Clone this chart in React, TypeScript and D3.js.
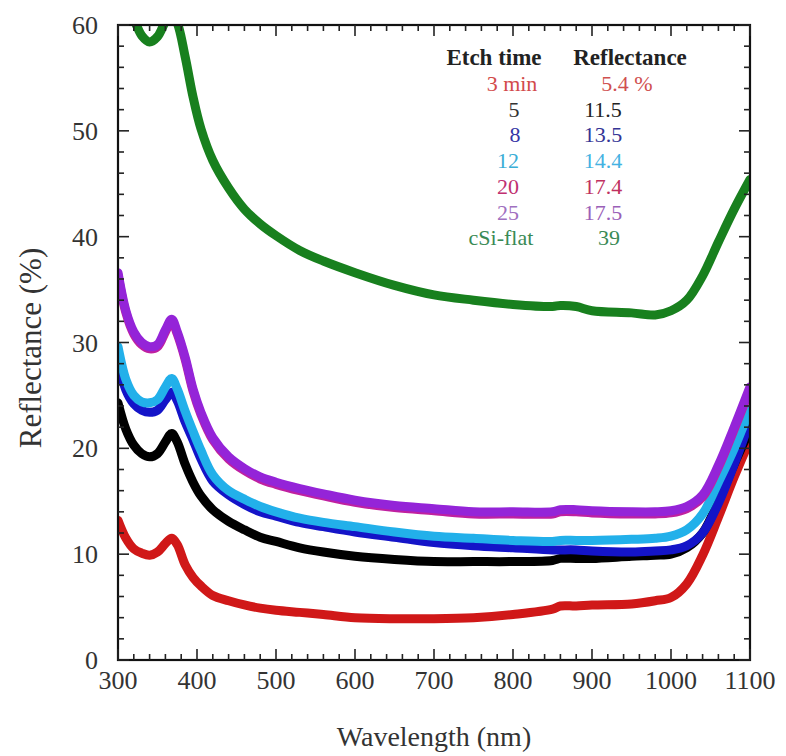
import React from "react";
import * as d3 from "d3";

const wavelengths = [300, 310, 320, 330, 340, 350, 360, 368, 375, 385, 395, 405, 420, 440, 460, 480, 500, 530, 560, 600, 650, 700, 750, 800, 850, 860, 880, 900, 950, 980, 1000, 1020, 1040, 1060, 1080, 1100];

const r3min = [13.2, 11.5, 10.5, 10.1, 9.9, 10.2, 11.0, 11.5, 10.9, 9.0, 7.8, 7.0, 6.1, 5.6, 5.2, 4.9, 4.7, 4.5, 4.3, 4.0, 3.9, 3.9, 4.0, 4.3, 4.8, 5.1, 5.1, 5.2, 5.3, 5.6, 5.9, 7.2, 9.9, 13.5, 17.3, 20.8];
const r5min = [24.3, 21.8, 20.3, 19.5, 19.2, 19.5, 20.6, 21.4, 20.6, 18.5, 16.8, 15.5, 14.2, 13.1, 12.3, 11.6, 11.2, 10.6, 10.2, 9.8, 9.5, 9.3, 9.3, 9.3, 9.4, 9.6, 9.6, 9.6, 9.8, 9.9, 10.0, 10.6, 12.0, 15.0, 18.5, 21.8];
const r8min = [28.3, 25.5, 24.2, 23.6, 23.4, 23.6, 24.6, 25.3, 24.5, 22.5, 20.8, 19.0, 16.9, 15.6, 14.7, 14.0, 13.6, 13.0, 12.6, 12.1, 11.6, 11.1, 10.8, 10.6, 10.4, 10.4, 10.4, 10.3, 10.2, 10.3, 10.4, 10.8, 12.0, 14.8, 18.5, 22.6];
const r12min = [29.6, 26.5, 25.0, 24.4, 24.3, 24.6, 25.8, 26.6, 25.6, 23.5, 21.6, 19.8, 17.5, 16.0, 15.2, 14.5, 14.0, 13.4, 13.0, 12.6, 12.1, 11.7, 11.5, 11.3, 11.2, 11.3, 11.3, 11.3, 11.4, 11.5, 11.7, 12.3, 13.8, 16.8, 20.0, 23.7];
const r20min = [36.4, 32.8, 30.8, 29.8, 29.4, 29.6, 31.0, 32.0, 30.8, 28.4, 25.4, 23.2, 20.8, 19.0, 17.9, 17.1, 16.6, 16.0, 15.5, 14.9, 14.4, 14.1, 13.8, 13.8, 13.8, 14.0, 14.0, 13.9, 13.8, 13.8, 13.9, 14.3, 15.4, 18.2, 21.8, 25.6];
const r25min = [36.6, 33.0, 31.0, 30.0, 29.6, 29.8, 31.2, 32.2, 31.0, 28.6, 25.6, 23.4, 21.0, 19.2, 18.1, 17.3, 16.8, 16.2, 15.7, 15.1, 14.6, 14.3, 14.0, 14.0, 14.0, 14.2, 14.2, 14.1, 14.0, 14.0, 14.1, 14.5, 15.6, 18.4, 22.0, 25.8];
const rFlat = [62.0, 61.5, 60.5, 59.0, 58.4, 58.9, 60.3, 61.0, 60.2, 57.0, 53.2, 50.2, 47.2, 44.6, 42.6, 41.2, 40.1, 38.7, 37.7, 36.6, 35.4, 34.5, 34.0, 33.6, 33.4, 33.5, 33.4, 33.0, 32.8, 32.6, 33.0, 34.0, 36.3, 39.5, 42.6, 45.4];

const seriesNames = ["3 min", "5", "8", "12", "20", "25", "cSi-flat"];
const seriesValues = [r3min, r5min, r8min, r12min, r20min, r25min, rFlat];
const lineColors = ["#d01818", "#000000", "#1414c8", "#22b0ea", "#c020a0", "#9424d8", "#18801e"];

const legendTimes = ["3 min", "5", "8", "12", "20", "25", "cSi-flat"];
const legendRefl = ["5.4 %", "11.5", "13.5", "14.4", "17.4", "17.5", "39"];
const timeColors = ["#d24a4a", "#333333", "#3535a5", "#3aaed6", "#c03070", "#a070c0", "#3a8a55"];
const reflColors = ["#d05050", "#222222", "#343495", "#44b2e2", "#c03060", "#9a60b8", "#3a8a55"];
const timeX = [512, 514, 515, 508, 508, 508, 501];
const reflX = [627, 603, 603, 603, 603, 603, 609];

const xTicks = [300, 400, 500, 600, 700, 800, 900, 1000, 1100];
const yTicks = [0, 10, 20, 30, 40, 50, 60];

const W = 786, H = 756;
const left = 118, right = 750, top = 25, bottom = 660;
const FONT = "'Liberation Serif', 'Times New Roman', 'DejaVu Serif', serif";
const tx = { fontFamily: FONT };

export default function App() {
  const x = d3.scaleLinear().domain([300, 1100]).range([left, right]);
  const y = d3.scaleLinear().domain([0, 60]).range([bottom, top]);
  const line = d3
    .line<[number, number]>()
    .x((d) => x(d[0]))
    .y((d) => y(d[1]))
    .curve(d3.curveCatmullRom.alpha(0.5));

  const xMinor = d3.range(300, 1101, 20);
  const yMinor = d3.range(0, 61, 2);

  return (
    <svg width={W} height={H} style={{ position: "absolute", left: 0, top: 0, background: "#fff" }}>
      <defs>
        <clipPath id="plot">
          <rect x={left} y={top} width={right - left} height={bottom - top} />
        </clipPath>
      </defs>
      <rect x={0} y={0} width={W} height={H} fill="#fff" />
      <g clipPath="url(#plot)">
        {seriesValues.map((vals, i) => (
          <path
            key={seriesNames[i]}
            d={line(wavelengths.map((w, j) => [w, vals[j]] as [number, number])) || ""}
            fill="none"
            stroke={lineColors[i]}
            strokeWidth={9}
            strokeLinejoin="round"
            strokeLinecap="round"
          />
        ))}
      </g>
      <rect x={left} y={top} width={right - left} height={bottom - top} fill="none" stroke="#111" strokeWidth={2.2} />
      {xMinor.map((t) => {
        const major = t % 100 === 0;
        const len = major ? 11 : 6;
        return (
          <g key={"xt" + t} stroke="#222" strokeWidth={1.6}>
            <line x1={x(t)} x2={x(t)} y1={bottom} y2={bottom - len} />
            <line x1={x(t)} x2={x(t)} y1={top} y2={top + len} />
          </g>
        );
      })}
      {yMinor.map((t) => {
        const major = t % 10 === 0;
        const len = major ? 11 : 6;
        return (
          <g key={"yt" + t} stroke="#222" strokeWidth={1.6}>
            <line x1={left} x2={left + len} y1={y(t)} y2={y(t)} />
            <line x1={right} x2={right - len} y1={y(t)} y2={y(t)} />
          </g>
        );
      })}
      {xTicks.map((t) => (
        <text key={"xl" + t} x={x(t)} y={bottom + 29} textAnchor="middle" fontSize={26} fill="#333" style={tx}>
          {t}
        </text>
      ))}
      {yTicks.map((t) => (
        <text key={"yl" + t} x={left - 20} y={y(t) + 9} textAnchor="end" fontSize={26} fill="#333" style={tx}>
          {t}
        </text>
      ))}
      <text x={(left + right) / 2} y={746} textAnchor="middle" fontSize={28} fill="#333" style={tx}>
        Wavelength (nm)
      </text>
      <text
        transform={`translate(41, 348) rotate(-90)`}
        textAnchor="middle"
        fontSize={31}
        fill="#333"
        style={tx}
      >
        Reflectance (%)
      </text>
      <text x={494} y={65} textAnchor="middle" fontSize={23} fontWeight="bold" fill="#222" style={tx}>
        Etch time
      </text>
      <text x={630} y={65} textAnchor="middle" fontSize={23} fontWeight="bold" fill="#222" style={tx}>
        Reflectance
      </text>
      {legendTimes.map((t, i) => (
        <text key={"lt" + i} x={timeX[i]} y={91 + i * 25.7} textAnchor="middle" fontSize={22} fill={timeColors[i]} style={tx}>
          {t}
        </text>
      ))}
      {legendRefl.map((t, i) => (
        <text key={"lr" + i} x={reflX[i]} y={91 + i * 25.7} textAnchor="middle" fontSize={22} fill={reflColors[i]} style={tx}>
          {t}
        </text>
      ))}
    </svg>
  );
}
